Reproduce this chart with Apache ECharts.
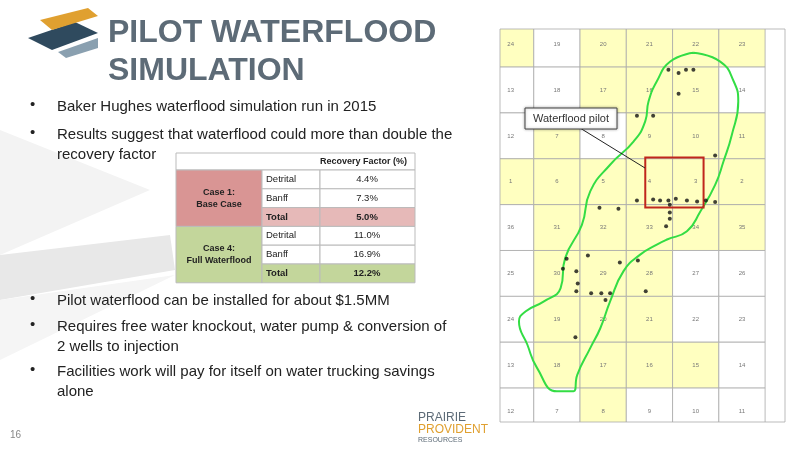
<!DOCTYPE html>
<html><head><meta charset="utf-8">
<script src="https://cdn.jsdelivr.net/npm/echarts@6/dist/echarts.min.js"></script>
<style>html,body{margin:0;padding:0;background:#fff}#c{width:800px;height:450px}</style>
</head><body><div id="c"></div>
<script>
// ---- data ----
const sectionRows = [
 [24,19,20,21,22,23],[13,18,17,16,15,14],[12,7,8,9,10,11],[1,6,5,4,3,2],
 [36,31,32,33,34,35],[25,30,29,28,27,26],[24,19,20,21,22,23],[13,18,17,16,15,14],[12,7,8,9,10,11]];
const landRows = [
 [1,0,1,1,1,1],[0,0,1,1,1,0],[0,1,0,1,1,1],[1,1,1,1,1,1],
 [0,1,1,1,1,1],[0,1,1,1,0,0],[0,1,1,1,0,0],[0,1,1,1,1,0],[0,0,1,0,0,0]];
const outlineX = [4.45,5.03,5.32,5.42,5.28,5.10,4.92,4.60,4.31,3.88,3.66,3.30,2.94,2.65,2.44,2.22,1.94,1.86,1.50,1.07,0.86,0.68,0.82,1.22,1.58,1.68,2.04,2.22,2.65,3.16,3.41,3.48,3.66,3.95,4.45];
const outlineY = [0.69,0.88,1.31,1.75,2.48,3.06,3.57,4.15,4.58,4.76,4.87,5.09,5.45,6.11,6.69,7.13,7.71,8.07,8.07,7.56,7.05,6.55,6.33,6.11,5.82,5.16,4.44,3.71,3.13,2.62,2.18,1.75,1.31,0.88,0.69];
const wellX = [3.91,4.13,4.29,4.45,4.13,3.23,3.58,3.23,3.58,3.73,3.91,4.07,4.31,4.53,4.72,4.92,4.92,3.94,2.42,2.83,3.94,3.94,3.86,1.71,1.63,1.92,2.17,2.86,3.25,1.95,1.92,2.24,2.46,2.65,3.42,2.55,1.90];
const wellY = [1.06,1.13,1.06,1.06,1.58,2.06,2.06,3.91,3.89,3.91,3.91,3.87,3.91,3.93,3.91,3.94,2.93,4.00,4.07,4.09,4.17,4.31,4.47,5.18,5.40,5.45,5.11,5.26,5.22,5.72,5.89,5.93,5.93,5.93,5.89,6.08,6.89];
const pilotBox = [3.41,2.97,4.67,4.06];
const tableHeader = 'Recovery Factor (%)';
const caseNames = ['Case 1:\nBase Case','Case 4:\nFull Waterflood'];
const zoneNames = ['Detrital','Banff','Total','Detrital','Banff','Total'];
const recovery = ['4.4%','7.3%','5.0%','11.0%','16.9%','12.2%'];
const bullets1 = ['Baker Hughes waterflood simulation run in 2015','Results suggest that waterflood could more than double the\nrecovery factor'];
const bullets2 = ['Pilot waterflood can be installed for about $1.5MM','Requires free water knockout, water pump & conversion of\n2 wells to injection','Facilities work will pay for itself on water trucking savings\nalone'];

// ---- build ----
const cells = [];
sectionRows.forEach((r,ri)=>r.forEach((s,ci)=>cells.push([ci,ri,landRows[ri][ci],s])));
const chart = echarts.init(document.getElementById('c'));
const g = [];
const F = 'Liberation Sans, Arial, sans-serif';
g.push({type:'polygon',shape:{points:[[0,130],[150,190],[0,255]]},style:{fill:'#f3f3f3'},z:-10});
g.push({type:'polygon',shape:{points:[[0,255],[170,235],[175,270],[0,300]]},style:{fill:'#e8e8e8'},z:-10});
g.push({type:'polygon',shape:{points:[[0,300],[175,275],[0,360]]},style:{fill:'#f5f5f5'},z:-10});
g.push({type:'polygon',shape:{points:[[28,38],[75,22],[98,33],[52,50]]},style:{fill:'#2f4a5e'}});
g.push({type:'polygon',shape:{points:[[40,20],[88,8],[98,16],[52,30]]},style:{fill:'#e0a030'}});
g.push({type:'polygon',shape:{points:[[58,52],[98,38],[98,48],[66,58]]},style:{fill:'#8aa0b0'}});
g.push({type:'text',left:108,top:14,style:{text:'PILOT WATERFLOOD\nSIMULATION',font:'bold 32px '+F,fill:'#5d6b77',lineHeight:38}});
let y=97;
bullets1.forEach(b=>{g.push({type:'text',left:30,top:y,style:{text:'•',font:'15px '+F,fill:'#222'}});
 g.push({type:'text',left:57,top:y,style:{text:b,font:'15px '+F,fill:'#222',lineHeight:20}}); y+= b.includes('\n')?44:28;});
y=291;
bullets2.forEach(b=>{g.push({type:'text',left:30,top:y,style:{text:'•',font:'15px '+F,fill:'#222'}});
 g.push({type:'text',left:57,top:y,style:{text:b,font:'15px '+F,fill:'#222',lineHeight:20}}); y+= b.includes('\n')?45:26;});
g.push({type:'text',left:10,top:430,style:{text:'16',font:'10px '+F,fill:'#888'}});
g.push({type:'text',left:418,top:412,style:{text:'PRAIRIE',font:'12px '+F,fill:'#5d6b77'}});
g.push({type:'text',left:418,top:424,style:{text:'PROVIDENT',font:'12px '+F,fill:'#e0a030'}});
g.push({type:'text',left:418,top:437,style:{text:'RESOURCES',font:'7px '+F,fill:'#5d6b77'}});
const tx=[176,262,320,415], ty0=153, hh=17, rh=18.8;
g.push({type:'rect',shape:{x:176,y:ty0,width:239,height:hh},style:{fill:'#fff',stroke:'#bbb'}});
g.push({type:'text',left:tx[2],top:ty0+4,style:{text:tableHeader,width:95,align:'center',font:'bold 9px '+F,fill:'#222'}});
for(let c=0;c<2;c++){
 const top=ty0+hh+c*3*rh, col=c?'#c3d69b':'#d99594', tot=c?'#c3d69b':'#e6b9b8';
 g.push({type:'rect',shape:{x:tx[0],y:top,width:86,height:3*rh},style:{fill:col,stroke:'#bbb'}});
 g.push({type:'text',x:219,y:top+1.5*rh,style:{text:caseNames[c],align:'center',verticalAlign:'middle',font:'bold 9px '+F,fill:'#222',lineHeight:12}});
 for(let r=0;r<3;r++){const i=c*3+r, yy=top+r*rh, fill=r==2?tot:'#fff', b=r==2?'bold ':'';
  g.push({type:'rect',shape:{x:tx[1],y:yy,width:58,height:rh},style:{fill,stroke:'#bbb'}});
  g.push({type:'rect',shape:{x:tx[2],y:yy,width:95,height:rh},style:{fill,stroke:'#bbb'}});
  g.push({type:'text',x:266,y:yy+rh/2,style:{text:zoneNames[i],verticalAlign:'middle',font:b+'9.5px '+F,fill:'#222'}});
  g.push({type:'text',x:367,y:yy+rh/2,style:{text:recovery[i],align:'center',verticalAlign:'middle',font:b+'9.5px '+F,fill:'#222'}});}
}
g.push({type:'line',shape:{x1:580,y1:128,x2:645,y2:168},style:{stroke:'#222',lineWidth:1},z:20});
g.push({type:'rect',shape:{x:525,y:108,width:92,height:21},style:{fill:'#fff',stroke:'#444',shadowBlur:3,shadowColor:'rgba(0,0,0,0.3)'},z:21});
g.push({type:'text',x:571,y:118.5,style:{text:'Waterflood pilot',align:'center',verticalAlign:'middle',font:'11px '+F,fill:'#333'},z:22});
g.push({type:'rect',shape:{x:500,y:29,width:285,height:393},style:{fill:'none',stroke:'#aaa',lineWidth:0.8},z:2});

chart.setOption({
 animation:false,
 grid:{left:500,top:29,width:285,height:393},
 xAxis:{type:'value',min:0.27,max:6.43,show:false},
 yAxis:{type:'value',min:0.17,max:8.74,inverse:true,show:false},
 graphic:g,
 series:[
  {type:'custom',data:cells,clip:true,renderItem:(p,api)=>{
    const a=api.coord([api.value(0),api.value(1)]), b=api.coord([api.value(0)+1,api.value(1)+1]);
    const c=api.coord([api.value(0)+0.5,api.value(1)+0.5]);
    return {type:'group',children:[
     {type:'rect',shape:{x:a[0],y:a[1],width:b[0]-a[0],height:b[1]-a[1]},style:{fill:api.value(2)?'#ffffc0':'#fff',stroke:'#aaa',lineWidth:0.8}},
     {type:'text',x:c[0],y:c[1],style:{text:String(api.value(3)),align:'center',verticalAlign:'middle',font:'6px '+F,fill:'#777'}}]};
   },z:1},
  {type:'line',data:outlineX.map((x,i)=>[x,outlineY[i]]),smooth:0.5,symbol:'none',lineStyle:{color:'#33dd44',width:2},z:3},
  {type:'custom',data:[pilotBox],renderItem:(p,api)=>{const a=api.coord([api.value(0),api.value(1)]),b=api.coord([api.value(2),api.value(3)]);
    return {type:'rect',shape:{x:a[0],y:a[1],width:b[0]-a[0],height:b[1]-a[1]},style:{fill:'none',stroke:'#c0261c',lineWidth:2}};},z:4},
  {type:'scatter',data:wellX.map((x,i)=>[x,wellY[i]]),symbolSize:4,itemStyle:{color:'#111'},z:5}
 ]
});
</script></body></html>
